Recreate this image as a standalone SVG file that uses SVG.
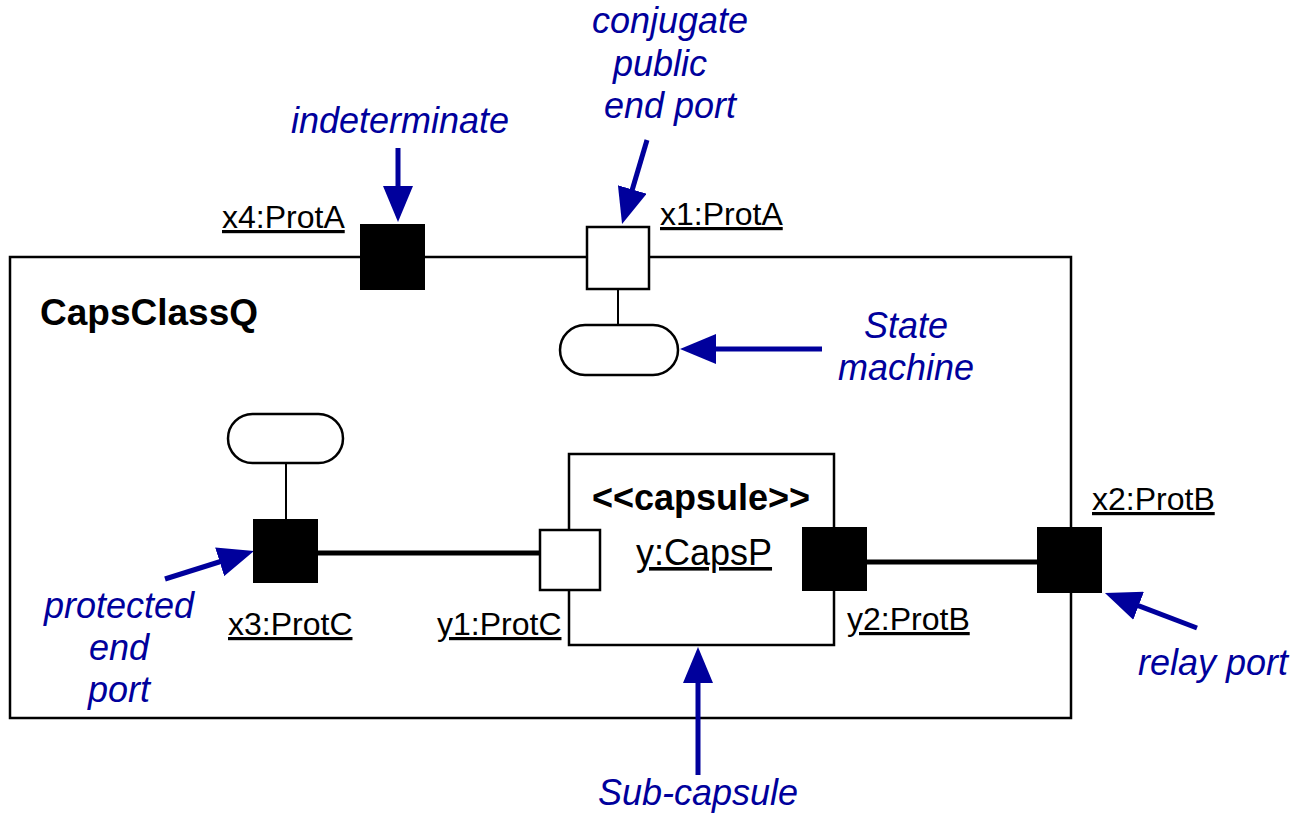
<svg xmlns="http://www.w3.org/2000/svg" width="1300" height="814" viewBox="0 0 1300 814">
<defs>
<style>
.frame{fill:#fff;stroke:#000;stroke-width:2.5}
.pf{fill:#000;stroke:#000;stroke-width:2}
.pw{fill:#fff;stroke:#000;stroke-width:2.5}
.thin{stroke:#000;stroke-width:2;fill:none}
.thick{stroke:#000;stroke-width:5;fill:none}
.ann{stroke:#00009C;stroke-width:5;fill:none;marker-end:url(#ah)}
.lbl{font-family:"Liberation Sans",Arial,sans-serif;font-size:32px;fill:#000;text-decoration:underline}
.big{font-size:36px}
.note{font-family:"Liberation Sans",Arial,sans-serif;font-size:36px;font-style:italic;fill:#00009C}
.bold{font-family:"Liberation Sans",Arial,sans-serif;font-weight:bold;fill:#000}
</style>
<marker id="ah" markerUnits="userSpaceOnUse" viewBox="0 0 36 30" markerWidth="36" markerHeight="30" refX="6" refY="15" orient="auto">
<path d="M0,0 L36,15 L0,30 z" fill="#00009C"/>
</marker>
</defs>
<g id="CapsClassQ">
<rect class="frame" x="10" y="257" width="1061" height="461"/>
<text class="bold" x="40" y="325" font-size="37">CapsClassQ</text>
</g>
<g id="connectors">
<line class="thin" x1="618" y1="289" x2="618" y2="325"/>
<line class="thin" x1="286" y1="463" x2="286" y2="520"/>
<line class="thick" x1="317" y1="553" x2="540" y2="553"/>
<line class="thick" x1="866" y1="562" x2="1038" y2="562"/>
<line class="ann" x1="398" y1="148" x2="398" y2="192"/>
<line class="ann" x1="647" y1="140" x2="630.6" y2="195.2"/>
<line class="ann" x1="822" y1="349" x2="710" y2="349"/>
<line class="ann" x1="165" y1="579" x2="225.4" y2="560"/>
<line class="ann" x1="1197" y1="628" x2="1133" y2="603.7"/>
<line class="ann" x1="698" y1="775" x2="698" y2="677"/>
</g>
<g id="x4">
<rect class="pf" x="361" y="225" width="63" height="64"/>
<text class="lbl" x="222" y="228">x4:ProtA</text>
</g>
<g id="x1">
<rect class="pw" x="587" y="227" width="62" height="62"/>
<text class="lbl" x="660" y="225">x1:ProtA</text>
</g>
<g id="sm1">
<rect class="pw" x="560" y="325" width="118" height="50" rx="25"/>
</g>
<g id="sm2">
<rect class="pw" x="228" y="414" width="115" height="49" rx="24.5"/>
</g>
<g id="x3">
<rect class="pf" x="254" y="520" width="63" height="62"/>
<text class="lbl" x="228" y="635">x3:ProtC</text>
</g>
<g id="capsule">
<rect class="frame" x="569" y="454" width="265" height="191"/>
<text class="bold" x="701" y="510" font-size="36" text-anchor="middle">&lt;&lt;capsule&gt;&gt;</text>
<text class="lbl big" x="704" y="565" text-anchor="middle">y:CapsP</text>
</g>
<g id="y1">
<rect class="pw" x="540" y="530" width="60" height="60"/>
<text class="lbl" x="437" y="635">y1:ProtC</text>
</g>
<g id="y2">
<rect class="pf" x="803" y="528" width="63" height="62"/>
<text class="lbl" x="847" y="630">y2:ProtB</text>
</g>
<g id="x2">
<rect class="pf" x="1038" y="528" width="63" height="64"/>
<text class="lbl" x="1092" y="510">x2:ProtB</text>
</g>
<g id="notes">
<text class="note" x="400" y="133" text-anchor="middle">indeterminate</text>
<text class="note" x="670" y="33" text-anchor="middle">conjugate</text>
<text class="note" x="660" y="76" text-anchor="middle">public</text>
<text class="note" x="670" y="118" text-anchor="middle">end port</text>
<text class="note" x="906" y="338" text-anchor="middle">State</text>
<text class="note" x="906" y="380" text-anchor="middle">machine</text>
<text class="note" x="119" y="618" text-anchor="middle">protected</text>
<text class="note" x="119" y="660" text-anchor="middle">end</text>
<text class="note" x="119" y="702" text-anchor="middle">port</text>
<text class="note" x="1213" y="675" text-anchor="middle">relay port</text>
<text class="note" x="698" y="805" text-anchor="middle">Sub-capsule</text>
</g>
</svg>
